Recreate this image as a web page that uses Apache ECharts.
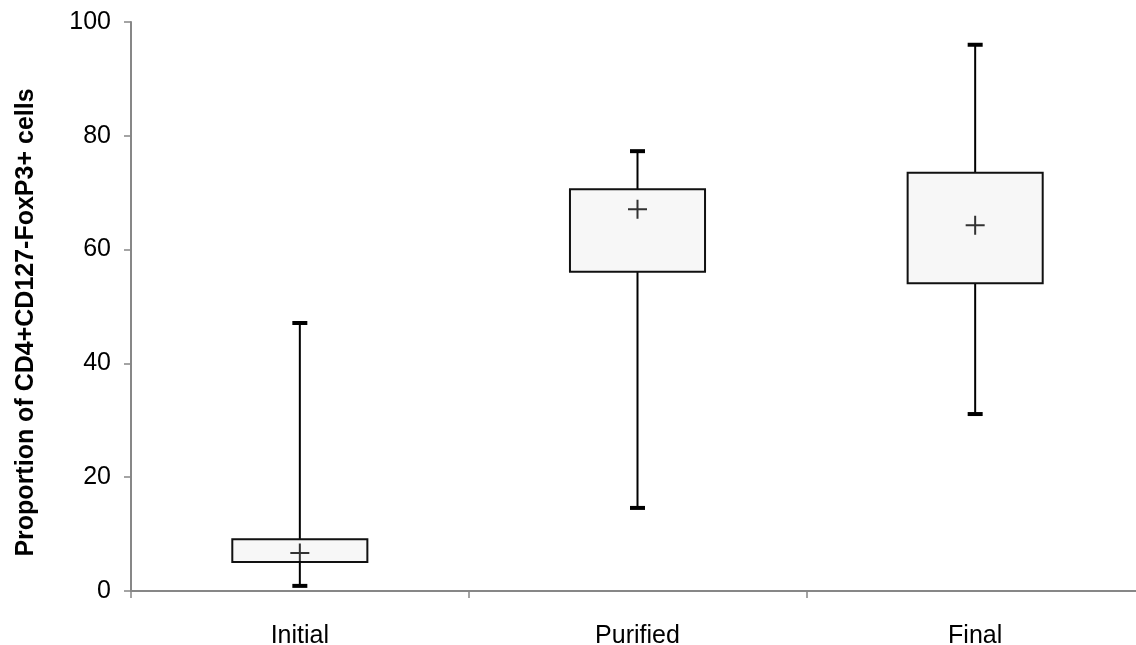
<!DOCTYPE html>
<html><head><meta charset="utf-8">
<script src="https://cdn.jsdelivr.net/npm/echarts@6/dist/echarts.min.js"></script>
<style>html,body{margin:0;padding:0;background:#fff}#c{width:1136px;height:645px}</style>
</head><body><div id="c"></div>
<script>
const categories = ['Initial', 'Purified', 'Final'];
const minVals  = [0.9, 14.6, 31.1];
const q1Vals   = [5.1, 56.1, 54.1];
const q3Vals   = [9.1, 70.6, 73.5];
const maxVals  = [47.1, 77.3, 96.0];
const meanVals = [6.7, 67.1, 64.3];
const yTicks = [0, 20, 40, 60, 80, 100];

const boxData = categories.map((c, i) => [i, minVals[i], q1Vals[i], q3Vals[i], maxVals[i]]);
const meanData = categories.map((c, i) => [i, meanVals[i]]);

function renderBox(params, api) {
  const i = api.value(0);
  const pMin = api.coord([i, api.value(1)]);
  const pQ1 = api.coord([i, api.value(2)]);
  const pQ3 = api.coord([i, api.value(3)]);
  const pMax = api.coord([i, api.value(4)]);
  const bw = api.size([1, 0])[0] * 0.4;
  const cx = pQ1[0];
  const capW = 15, capH = 4;
  return {
    type: 'group',
    children: [
      { type: 'line', shape: { x1: cx, y1: pMax[1], x2: cx, y2: pQ3[1] }, style: { stroke: '#000', lineWidth: 2 } },
      { type: 'line', shape: { x1: cx, y1: pQ1[1], x2: cx, y2: pMin[1] }, style: { stroke: '#000', lineWidth: 2 } },
      { type: 'rect', shape: { x: cx - capW / 2, y: pMax[1] - capH / 2, width: capW, height: capH }, style: { fill: '#000' } },
      { type: 'rect', shape: { x: cx - capW / 2, y: pMin[1] - capH / 2, width: capW, height: capH }, style: { fill: '#000' } },
      { type: 'rect', shape: { x: cx - bw / 2, y: pQ3[1], width: bw, height: pQ1[1] - pQ3[1] }, style: { fill: '#f7f7f7', stroke: '#111', lineWidth: 2 } }
    ]
  };
}

const chart = echarts.init(document.getElementById('c'));
chart.setOption({
  animation: false,
  textStyle: { fontFamily: 'Liberation Sans, Arial, sans-serif' },
  grid: { left: 131, width: 1013, top: 22, bottom: 54, outerBoundsMode: 'none', containLabel: false },
  xAxis: {
    type: 'category',
    data: categories,
    boundaryGap: true,
    axisLine: { lineStyle: { color: '#878787', width: 2 } },
    axisTick: { show: true, alignWithLabel: false, length: 7, lineStyle: { color: '#878787', width: 1.5 } },
    axisLabel: { color: '#000', fontSize: 25, margin: 33 },
    splitLine: { show: false }
  },
  yAxis: {
    type: 'value',
    min: 0, max: 100, interval: 20,
    name: 'Proportion of CD4+CD127-FoxP3+ cells',
    nameLocation: 'middle',
    nameGap: 92,
    nameRotate: 90,
    nameTextStyle: { color: '#000', fontSize: 25, fontWeight: 'bold', padding: [0, 32, 0, 0] },
    axisLine: { show: true, lineStyle: { color: '#878787', width: 2 } },
    axisTick: { show: true, length: 7, lineStyle: { color: '#878787', width: 1.5 } },
    axisLabel: { color: '#000', fontSize: 25, margin: 20,
      formatter: v => yTicks.includes(v) ? String(v) : '' },
    splitLine: { show: false }
  },
  series: [
    { type: 'custom', renderItem: renderBox, data: boxData, encode: { x: 0, y: [1, 2, 3, 4] }, z: 2 },
    { type: 'scatter', data: meanData, symbol: 'path://M0,9 L18,9 M9,0 L9,18', symbolSize: 19,
      itemStyle: { color: 'none', borderColor: '#000', borderWidth: 2 }, z: 3 }
  ]
});
</script>
</body></html>
